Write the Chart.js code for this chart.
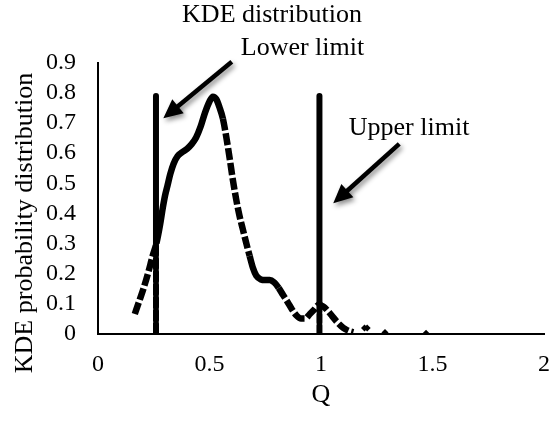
<!DOCTYPE html>
<html>
<head>
<meta charset="utf-8">
<script src="https://cdn.jsdelivr.net/npm/chart.js@4.4.1/dist/chart.umd.min.js"></script>
<style>
  html, body { margin: 0; padding: 0; background: #fff; }
  #wrap { width: 550px; height: 421px; }
</style>
</head>
<body>
<div id="wrap"><canvas id="chart" width="550" height="421"></canvas></div>
<script>
// KDE curve
const kdeQ = [0.165, 0.185, 0.205, 0.225, 0.245, 0.262, 0.278, 0.291, 0.301, 0.311,
  0.324, 0.339, 0.357, 0.377, 0.40, 0.42, 0.44, 0.46, 0.48, 0.50,
  0.515, 0.53, 0.545, 0.56, 0.575, 0.59, 0.605, 0.62, 0.635, 0.65,
  0.665, 0.68, 0.695, 0.71, 0.73, 0.75, 0.77, 0.79, 0.81, 0.83,
  0.85, 0.87, 0.89, 0.91, 0.93, 0.95, 0.97, 0.99, 1.01, 1.03,
  1.05, 1.07, 1.09, 1.11, 1.13, 1.145];
const kdeDensity = [0.065, 0.108, 0.152, 0.202, 0.258, 0.3, 0.36, 0.42, 0.46, 0.49,
  0.53, 0.565, 0.59, 0.603, 0.615, 0.63, 0.652, 0.688, 0.735, 0.772,
  0.788, 0.78, 0.752, 0.715, 0.655, 0.585, 0.51, 0.445, 0.39, 0.345,
  0.3, 0.258, 0.218, 0.192, 0.18, 0.178, 0.178, 0.17, 0.152, 0.128,
  0.105, 0.08, 0.06, 0.05, 0.05, 0.065, 0.08, 0.095, 0.09, 0.076,
  0.058, 0.04, 0.025, 0.014, 0.007, 0.004];

// stray points in the right tail
const tailQ = [1.195, 1.207, 1.287, 1.471];
const tailDensity = [0.018, 0.018, 0.003, 0.001];

// limits (vertical lines)
const lowerLimitQ = 0.26;
const upperLimitQ = 0.993;
const lowerLimitY = [0, 0.3, 0.79];
const upperLimitY = [0, 0.1, 0.79];

const xTicks = [0, 0.5, 1, 1.5, 2];
const yTicks = [0, 0.1, 0.2, 0.3, 0.4, 0.5, 0.6, 0.7, 0.8, 0.9];

// arrows and their labels, in data units
const limitArrows = [
  { from: [0.6, 0.904], to: [0.293, 0.716] },
  { from: [1.351, 0.631], to: [1.055, 0.433] }
];
const limitLabels = [
  { text: 'Lower limit', at: [0.917, 0.927] },
  { text: 'Upper limit', at: [1.395, 0.661] }
];

const serif = 'Liberation Serif';

// the curve looks broken where the original markers thin out
const dashedBands = [[0.15, 0.25], [0.555, 0.68], [0.8, 1.2]];
function curveDash(ctx) {
  const q = ctx.p0.parsed.x;
  return dashedBands.some(b => q >= b[0] && q < b[1]) ? [12, 3] : undefined;
}

function toPoints(xs, ys) {
  return xs.map((v, i) => ({ x: v, y: ys[i] }));
}

const notesPlugin = {
  id: 'limitNotes',
  afterDraw(chart) {
    const { ctx, scales: { x, y } } = chart;
    ctx.save();

    // arrows with a soft drop shadow
    limitArrows.forEach(a => {
      const x0 = x.getPixelForValue(a.from[0]), y0 = y.getPixelForValue(a.from[1]);
      const x1 = x.getPixelForValue(a.to[0]), y1 = y.getPixelForValue(a.to[1]);
      const ang = Math.atan2(y1 - y0, x1 - x0);
      const head = 19, half = 9;
      const bx = x1 - head * Math.cos(ang), by = y1 - head * Math.sin(ang);
      ctx.shadowColor = 'rgba(0,0,0,0.45)';
      ctx.shadowBlur = 5;
      ctx.shadowOffsetX = 2;
      ctx.shadowOffsetY = 3;
      ctx.strokeStyle = '#000';
      ctx.fillStyle = '#000';
      ctx.lineWidth = 4.5;
      ctx.beginPath();
      ctx.moveTo(x0, y0);
      ctx.lineTo(bx + 2 * Math.cos(ang), by + 2 * Math.sin(ang));
      ctx.stroke();
      ctx.beginPath();
      ctx.moveTo(x1, y1);
      ctx.lineTo(bx + half * Math.sin(ang), by - half * Math.cos(ang));
      ctx.lineTo(bx - half * Math.sin(ang), by + half * Math.cos(ang));
      ctx.closePath();
      ctx.fill();
    });

    ctx.shadowColor = 'transparent';
    ctx.fillStyle = '#000';
    ctx.font = '26px "' + serif + '"';
    ctx.textAlign = 'center';
    ctx.textBaseline = 'alphabetic';
    limitLabels.forEach(l => {
      ctx.fillText(l.text, x.getPixelForValue(l.at[0]), y.getPixelForValue(l.at[1]));
    });

    // y axis title, sits a bit lower than the axis centre in the original
    ctx.translate(32, 223);
    ctx.rotate(-Math.PI / 2);
    ctx.fillText('KDE probability distribution', 0, 0);
    ctx.restore();
  }
};

new Chart(document.getElementById('chart'), {
  type: 'scatter',
  data: {
    datasets: [
      {
        data: toPoints(kdeQ, kdeDensity),
        showLine: true,
        borderColor: '#000',
        borderWidth: 6.5,
        borderCapStyle: 'butt',
        cubicInterpolationMode: 'monotone',
        pointRadius: 0,
        segment: { borderDash: curveDash }
      },
      {
        data: toPoints(lowerLimitY.map(() => lowerLimitQ), lowerLimitY),
        showLine: true,
        borderColor: '#000',
        borderWidth: 6,
        borderCapStyle: 'round',
        pointRadius: 0,
        segment: { borderDash: c => c.p0DataIndex === 0 ? [10, 3] : undefined }
      },
      {
        data: toPoints(upperLimitY.map(() => upperLimitQ), upperLimitY),
        showLine: true,
        borderColor: '#000',
        borderWidth: 6,
        borderCapStyle: 'round',
        pointRadius: 0,
        segment: { borderDash: c => c.p0DataIndex === 0 ? [8, 3] : undefined }
      },
      {
        data: toPoints(tailQ, tailDensity),
        showLine: false,
        pointStyle: 'rectRot',
        pointRadius: 3.5,
        backgroundColor: '#000',
        borderColor: '#000',
        borderWidth: 0
      }
    ]
  },
  options: {
    responsive: false,
    animation: false,
    layout: { padding: { top: 0, right: 6, bottom: 0, left: 0 } },
    plugins: {
      legend: { display: false },
      tooltip: { enabled: false },
      title: {
        display: true,
        text: 'KDE distribution',
        color: '#000',
        font: { family: serif, size: 26, weight: 'normal' },
        padding: { top: 0, bottom: 31.8 }
      }
    },
    scales: {
      x: {
        type: 'linear',
        min: 0,
        max: 2,
        afterBuildTicks: s => { s.ticks = xTicks.map(v => ({ value: v })); },
        afterFit: s => {
          s.height = 87.5;
          // the last label may hang past the axis end, as in the original
          s.paddingLeft = 0;
          s.paddingRight = 0;
        },
        grid: { display: false, drawTicks: false },
        border: { display: true, color: '#000', width: 2 },
        ticks: {
          color: '#000',
          padding: 17,
          autoSkip: false,
          maxRotation: 0,
          font: { family: serif, size: 24 },
          callback: v => String(v)
        },
        title: {
          display: true,
          text: 'Q',
          color: '#000',
          font: { family: serif, size: 26 },
          padding: { top: 0, bottom: 10 }
        }
      },
      y: {
        type: 'linear',
        min: 0,
        max: 0.9,
        afterBuildTicks: s => { s.ticks = yTicks.map(v => ({ value: v })); },
        afterFit: s => { s.width = 98; },
        grid: { display: false, drawTicks: false },
        border: { display: true, color: '#000', width: 2 },
        ticks: {
          color: '#000',
          padding: 22,
          autoSkip: false,
          font: { family: serif, size: 24 },
          callback: v => String(v)
        }
      }
    }
  },
  plugins: [notesPlugin]
});
</script>
</body>
</html>
